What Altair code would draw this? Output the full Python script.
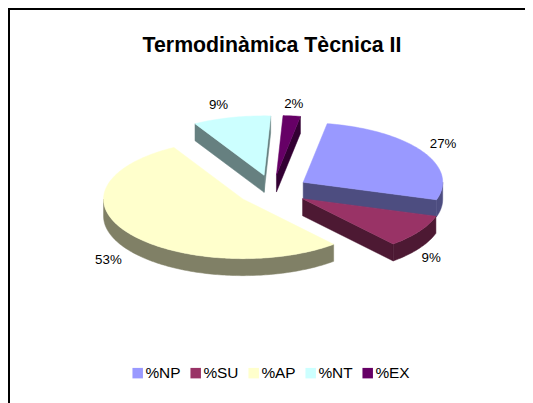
import math
import altair as alt
import pandas as pd

# --- values ---
categories = ["%NP", "%SU", "%AP", "%NT", "%EX"]
shares = [27, 9, 53, 9, 2]
top_colors = ["#9999FF", "#993366", "#FFFFCC", "#CCFFFF", "#660066"]
side_colors = ["#4D4D80", "#4D1933", "#808066", "#668080", "#330033"]
title_text = "Termodinàmica Tècnica II"

# --- pie layout ---
W, H = 517, 395
CX, CY = 264.5, 182.3  # pie centre in plot units
RX, RY = 139.5, 59.5   # ellipse radii
EXPLODE = 36           # explosion along each slice's bisector
DEPTH = 17
FIRST_ANGLE = 9.9      # clockwise from 12 o'clock
LABEL_SHIFT = [(21, -7), (12, 27), (-20.5, 27), (-13, -13), (2, -12)]


def on_rim(ax, ay, deg):
    a = math.radians(deg)
    return ax + RX * math.sin(a), ay - RY * math.cos(a)


sides, tops, labels = [], [], []
angle = FIRST_ANGLE
for i, (cat, share) in enumerate(zip(categories, shares)):
    start, end = angle, angle + share * 3.6
    angle = end
    mid = (start + end) / 2
    ax = CX + EXPLODE * math.sin(math.radians(mid))
    ay = CY - EXPLODE * (RY / RX) * math.cos(math.radians(mid))

    # top face
    steps = max(4, int(end - start))
    rim = [on_rim(ax, ay, start + (end - start) * k / steps) for k in range(steps + 1)]
    poly = [(ax, ay)] + rim + [(ax, ay)]
    tops += [dict(id=cat, cat=cat, n=n, x=x, y=y) for n, (x, y) in enumerate(poly)]

    # visible radial walls
    walls = []
    if math.sin(math.radians(start)) < 0:
        walls.append([(ax, ay), on_rim(ax, ay, start)])
    if math.sin(math.radians(end)) > 0:
        walls.append([(ax, ay), on_rim(ax, ay, end)])
    # visible outer wall (front half of the ellipse)
    lo, hi = max(start, 90), min(end, 270)
    if hi > lo:
        k_max = max(2, int(hi - lo))
        walls.append([on_rim(ax, ay, lo + (hi - lo) * k / k_max) for k in range(k_max + 1)])
    for w, edge in enumerate(walls):
        band = edge + [(x, y + DEPTH) for x, y in reversed(edge)] + [edge[0]]
        sides += [dict(id=f"{cat}-{w}", side=side_colors[i], n=n, x=x, y=y)
                  for n, (x, y) in enumerate(band)]

    # label
    ex, ey = on_rim(ax, ay, mid)
    labels.append(dict(x=ex + LABEL_SHIFT[i][0], y=ey + LABEL_SHIFT[i][1], text=f"{share}%"))

x_enc = alt.X("x:Q", scale=alt.Scale(domain=[0, W], nice=False, zero=False), axis=None)
y_enc = alt.Y("y:Q", scale=alt.Scale(domain=[H, 0], nice=False, zero=False), axis=None)

side_layer = (
    alt.Chart(pd.DataFrame(sides))
    .mark_line(strokeWidth=0.5, interpolate="linear")
    .encode(
        x=x_enc, y=y_enc, order="n:Q", detail="id:N",
        fill=alt.Fill("side:N", scale=None),
        stroke=alt.Stroke("side:N", scale=None),
    )
)

color_scale = alt.Scale(domain=categories, range=top_colors)
top_layer = (
    alt.Chart(pd.DataFrame(tops))
    .mark_line(strokeWidth=0.5, interpolate="linear")
    .encode(
        x=x_enc, y=y_enc, order="n:Q", detail="id:N",
        fill=alt.Fill(
            "cat:N", scale=color_scale,
            legend=alt.Legend(
                title=None, orient="none", legendX=122, legendY=357,
                direction="horizontal", columns=5, symbolType="square",
                symbolSize=110, symbolStrokeWidth=0, labelFont="Liberation Sans",
                labelFontSize=15.4, labelColor="#000000", labelOffset=0,
                columnPadding=7, padding=0,
            ),
        ),
        stroke=alt.Stroke("cat:N", scale=color_scale, legend=None),
    )
)

label_layer = (
    alt.Chart(pd.DataFrame(labels))
    .mark_text(font="Liberation Sans", fontSize=13.3, color="#000000", align="center", baseline="middle")
    .encode(x=x_enc, y=y_enc, text="text:N")
)

frame_top = alt.Chart(pd.DataFrame({"a": [0]})).mark_rule(color="#000000", strokeWidth=2).encode(
    x=alt.value(0), x2=alt.value(W), y=alt.value(1))
frame_left = alt.Chart(pd.DataFrame({"a": [0]})).mark_rule(color="#000000", strokeWidth=2).encode(
    y=alt.value(0), y2=alt.value(H), x=alt.value(1))

chart = (
    alt.layer(side_layer, top_layer, label_layer, frame_top, frame_left)
    .properties(
        width=W, height=H, padding=0, autosize=alt.AutoSizeParams(type="none"),
        title=alt.TitleParams(title_text, font="Liberation Sans", fontSize=21.3, fontWeight="bold",
                              color="#000000", anchor="middle", dx=5.5, dy=49, offset=0),
    )
    .configure_view(stroke=None)
)

chart.save("out.html", embed_options={"renderer": "svg", "actions": False})
